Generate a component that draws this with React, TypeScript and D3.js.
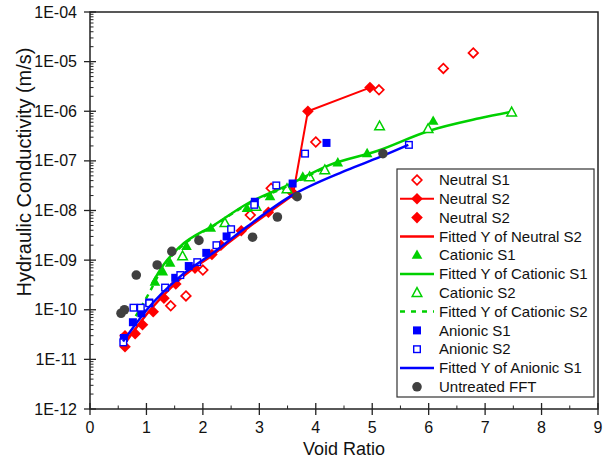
import React from "react";
import * as d3 from "d3";

type P = [number, number];

const neutralS1: P[] = [
  [1.43, 1.2e-10], [1.7, 1.9e-10], [2.0, 6.3e-10], [2.84, 8.1e-9], [3.21, 2.8e-8],
  [4.0, 2.4e-7], [5.12, 2.7e-6], [6.26, 7.3e-6], [6.79, 1.5e-5],
];
const neutralS2Line: P[] = [[3.6, 2.2e-8], [3.86, 1.0e-6], [4.96, 3.0e-6]];
const neutralS2: P[] = [
  [0.62, 1.8e-11], [0.62, 3.0e-11], [0.8, 3.3e-11], [0.93, 5.0e-11], [1.12, 9.1e-11],
  [1.31, 1.7e-10], [1.52, 3.3e-10], [1.86, 6.9e-10], [2.16, 1.3e-9], [2.32, 2.0e-9],
  [2.68, 3.9e-9], [3.16, 9.2e-9], [3.57, 2.4e-8],
];
const fitNeutralS2: P[] = [
  [0.62, 2.1e-11], [1.0, 8.0e-11], [1.6, 4.2e-10], [2.2, 1.35e-9], [2.8, 4.5e-9], [3.58, 2.0e-8],
];
const cationicS1: P[] = [
  [1.15, 3.6e-10], [1.29, 5.8e-10], [1.42, 8.7e-10], [1.71, 1.9e-9], [2.14, 4.4e-9],
  [2.78, 1.1e-8], [3.19, 1.9e-8], [3.77, 4.7e-8], [4.39, 9.1e-8], [4.91, 1.4e-7], [6.08, 6.3e-7],
];
const fitCationicS1: P[] = [
  [1.1, 3.4e-10], [1.3, 8.0e-10], [1.6, 1.9e-9], [2.2, 5.1e-9], [2.8, 1.4e-8], [3.5, 3.2e-8],
  [4.25, 8.3e-8], [5.1, 1.6e-7], [6.0, 4.0e-7], [6.9, 7.2e-7], [7.47, 9.8e-7],
];
const cationicS2: P[] = [
  [1.64, 1.2e-9], [2.39, 5.6e-9], [2.94, 1.2e-8], [3.49, 2.7e-8], [3.89, 4.7e-8],
  [4.16, 6.5e-8], [5.13, 5.0e-7], [5.99, 4.4e-7], [7.47, 9.5e-7],
];
const fitCationicS2: P[] = [
  [0.72, 5.0e-11], [0.9, 1.1e-10], [1.05, 2.2e-10], [1.3, 7.5e-10], [1.6, 1.8e-9],
  [2.2, 5.0e-9], [2.8, 1.35e-8], [3.5, 3.1e-8], [4.2, 7.8e-8],
];
const anionicS1: P[] = [
  [0.6, 2.7e-11], [0.76, 5.6e-11], [0.91, 8.5e-11], [1.05, 1.4e-10], [1.51, 4.4e-10],
  [1.75, 7.6e-10], [2.06, 1.4e-9], [2.42, 3.0e-9], [2.92, 1.5e-8], [3.59, 3.5e-8], [4.19, 2.3e-7],
];
const anionicS2: P[] = [
  [0.59, 2.2e-11], [0.77, 1.1e-10], [0.9, 1.1e-10], [1.05, 1.35e-10], [1.33, 2.8e-10],
  [1.6, 5.0e-10], [1.9, 9.1e-10], [2.24, 2.0e-9], [2.5, 4.2e-9], [2.91, 1.3e-8],
  [3.3, 3.2e-8], [3.81, 1.4e-7], [5.65, 2.1e-7],
];
const fitAnionicS1: P[] = [
  [0.585, 2.3e-11], [1.0, 9.8e-11], [1.59, 4.6e-10], [2.18, 1.4e-9], [2.78, 4.7e-9],
  [3.54, 1.9e-8], [4.55, 6.5e-8], [5.14, 1.2e-7], [5.64, 2.1e-7],
];
const untreatedFFT: P[] = [
  [0.55, 8.5e-11], [0.61, 1.0e-10], [0.82, 5.0e-10], [1.19, 8.0e-10], [1.45, 1.5e-9],
  [1.93, 2.5e-9], [2.88, 2.9e-9], [3.32, 7.4e-9], [3.67, 1.9e-8], [5.19, 1.4e-7],
];

const xTicks = [0, 1, 2, 3, 4, 5, 6, 7, 8, 9];
const yTickExps = [-12, -11, -10, -9, -8, -7, -6, -5, -4];
const legendLabels = [
  "Neutral S1", "Neutral S2", "Neutral S2", "Fitted Y of Neutral S2", "Cationic S1",
  "Fitted Y of Cationic S1", "Cationic S2", "Fitted Y of Cationic S2", "Anionic S1",
  "Anionic S2", "Fitted Y of Anionic S1", "Untreated FFT",
];

const RED = "#ff0000";
const GREEN = "#00d000";
const BLUE = "#0000ff";
const GREY = "#404040";
const FONT = "Liberation Sans, Arial, sans-serif";

const L = 90, R = 598, T = 12, B = 409;
const x = d3.scaleLinear().domain([0, 9]).range([L, R]);
const y = d3.scaleLog().domain([1e-12, 1e-4]).range([B, T]);

type Kind = "diamondOpen" | "diamond" | "triUp" | "triOpen" | "square" | "squareOpen" | "circle";

function Marker({ kind, cx, cy }: { kind: Kind; cx: number; cy: number }) {
  switch (kind) {
    case "diamondOpen":
      return <path d={`M${cx},${cy - 4.8}L${cx + 4.8},${cy}L${cx},${cy + 4.8}L${cx - 4.8},${cy}Z`} fill="#fff" stroke={RED} strokeWidth={1.7} />;
    case "diamond":
      return <path d={`M${cx},${cy - 5.8}L${cx + 5.8},${cy}L${cx},${cy + 5.8}L${cx - 5.8},${cy}Z`} fill={RED} />;
    case "triUp":
      return <path d={`M${cx},${cy - 5.8}L${cx + 5.3},${cy + 3.6}L${cx - 5.3},${cy + 3.6}Z`} fill={GREEN} />;
    case "triOpen":
      return <path d={`M${cx},${cy - 5.2}L${cx + 4.8},${cy + 3.6}L${cx - 4.8},${cy + 3.6}Z`} fill="#fff" stroke={GREEN} strokeWidth={1.5} />;
    case "square":
      return <rect x={cx - 4} y={cy - 4} width={8} height={8} fill={BLUE} />;
    case "squareOpen":
      return <rect x={cx - 3.3} y={cy - 3.3} width={6.6} height={6.6} fill="#fff" stroke={BLUE} strokeWidth={1.4} />;
    case "circle":
      return <circle cx={cx} cy={cy} r={4.8} fill={GREY} />;
  }
}

const line = d3.line<P>().x((d) => x(d[0])).y((d) => y(d[1]));
const smooth = d3.line<P>().x((d) => x(d[0])).y((d) => y(d[1])).curve(d3.curveMonotoneX);

function Points({ data, kind }: { data: P[]; kind: Kind }) {
  return (
    <g>
      {data.map((d, i) => (
        <Marker key={i} kind={kind} cx={x(d[0])} cy={y(d[1])} />
      ))}
    </g>
  );
}

export default function App() {
  const minor: number[] = [];
  for (let e = -12; e < -4; e++) for (let m = 2; m <= 9; m++) minor.push(m * Math.pow(10, e));
  const xMinor = d3.range(0.5, 9, 1);
  const fmt = (e: number) => `1E-${String(-e).padStart(2, "0")}`;

  const lx0 = 400, lx1 = 434, lsx = 417, ltx = 439, ly0 = 180, ldy = 18.8;

  return (
    <svg width={604} height={461} style={{ position: "absolute", left: 0, top: 0, background: "#fff" }} fontFamily={FONT}>
      <rect x={0} y={0} width={604} height={461} fill="#fff" />
      {/* series */}
      <Points data={neutralS1} kind="diamondOpen" />
      <path d={line(neutralS2Line) || ""} fill="none" stroke={RED} strokeWidth={2} />
      <Points data={neutralS2Line} kind="diamond" />
      <Points data={neutralS2} kind="diamond" />
      <path d={smooth(fitNeutralS2) || ""} fill="none" stroke={RED} strokeWidth={2.5} />
      <Points data={cationicS1} kind="triUp" />
      <path d={smooth(fitCationicS1) || ""} fill="none" stroke={GREEN} strokeWidth={2.5} />
      <Points data={cationicS2} kind="triOpen" />
      <path d={smooth(fitCationicS2) || ""} fill="none" stroke={GREEN} strokeWidth={2.5} strokeDasharray="5,5" />
      <Points data={anionicS1} kind="square" />
      <Points data={anionicS2} kind="squareOpen" />
      <path d={smooth(fitAnionicS1) || ""} fill="none" stroke={BLUE} strokeWidth={2.5} />
      <Points data={untreatedFFT} kind="circle" />

      {/* frame */}
      <rect x={L} y={T} width={R - L} height={B - T} fill="none" stroke="#222" strokeWidth={1.5} />
      {/* y ticks */}
      {yTickExps.map((e) => (
        <g key={e}>
          <line x1={L - 6} x2={L + 6} y1={y(Math.pow(10, e))} y2={y(Math.pow(10, e))} stroke="#222" strokeWidth={1.3} />
          <text x={L - 13} y={y(Math.pow(10, e))} dy="0.35em" textAnchor="end" fontSize={16} fill="#111">
            {fmt(e)}
          </text>
        </g>
      ))}
      {minor.map((v, i) => (
        <line key={i} x1={L} x2={L + 3.5} y1={y(v)} y2={y(v)} stroke="#222" strokeWidth={1} />
      ))}
      {/* x ticks */}
      {xTicks.map((t) => (
        <g key={t}>
          <line x1={x(t)} x2={x(t)} y1={B - 6} y2={B + 6} stroke="#222" strokeWidth={1.3} />
          <text x={x(t)} y={B + 24} textAnchor="middle" fontSize={16} fill="#111">
            {t}
          </text>
        </g>
      ))}
      {xMinor.map((t) => (
        <line key={t} x1={x(t)} x2={x(t)} y1={B - 3.5} y2={B} stroke="#222" strokeWidth={1} />
      ))}
      <text x={(L + R) / 2} y={455} textAnchor="middle" fontSize={18} fill="#111">
        Void Ratio
      </text>
      <text transform={`translate(31,172) rotate(-90)`} textAnchor="middle" fontSize={20} fill="#111">
        Hydraulic Conductivity (m/s)
      </text>

      {/* legend */}
      <rect x={397} y={169} width={197} height={228} fill="#fff" stroke="#333" strokeWidth={1.2} />
      {legendLabels.map((lab, i) => {
        const ly = ly0 + i * ldy;
        let sample: React.ReactNode = null;
        if (i === 0) sample = <Marker kind="diamondOpen" cx={lsx} cy={ly} />;
        if (i === 1)
          sample = (
            <g>
              <line x1={lx0} x2={lx1} y1={ly} y2={ly} stroke={RED} strokeWidth={2} />
              <Marker kind="diamond" cx={lsx} cy={ly} />
            </g>
          );
        if (i === 2) sample = <Marker kind="diamond" cx={lsx} cy={ly} />;
        if (i === 3) sample = <line x1={lx0} x2={lx1} y1={ly} y2={ly} stroke={RED} strokeWidth={2.5} />;
        if (i === 4) sample = <Marker kind="triUp" cx={lsx} cy={ly} />;
        if (i === 5) sample = <line x1={lx0} x2={lx1} y1={ly} y2={ly} stroke={GREEN} strokeWidth={2.5} />;
        if (i === 6) sample = <Marker kind="triOpen" cx={lsx} cy={ly} />;
        if (i === 7)
          sample = <line x1={lx0} x2={lx1} y1={ly} y2={ly} stroke={GREEN} strokeWidth={2.5} strokeDasharray="5,6" />;
        if (i === 8) sample = <Marker kind="square" cx={lsx} cy={ly} />;
        if (i === 9) sample = <Marker kind="squareOpen" cx={lsx} cy={ly} />;
        if (i === 10) sample = <line x1={lx0} x2={lx1} y1={ly} y2={ly} stroke={BLUE} strokeWidth={2.5} />;
        if (i === 11) sample = <Marker kind="circle" cx={lsx} cy={ly} />;
        return (
          <g key={i}>
            {sample}
            <text x={ltx} y={ly} dy="0.35em" fontSize={15} fill="#111">
              {lab}
            </text>
          </g>
        );
      })}
    </svg>
  );
}
